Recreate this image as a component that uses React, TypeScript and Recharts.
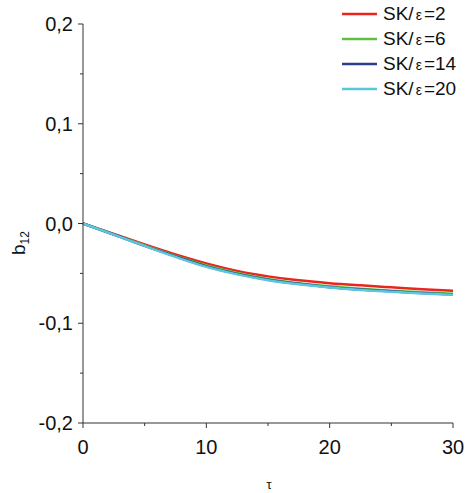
import React from 'react';
import { LineChart, Line, XAxis, YAxis } from 'recharts';

const tau = [0, 2.5, 5, 7.5, 10, 12.5, 15, 17.5, 20, 22.5, 25, 27.5, 30];
const sk2 = [0, -0.0105, -0.021, -0.031, -0.040, -0.0475, -0.053, -0.057, -0.0598, -0.062, -0.064, -0.066, -0.0675];
const sk6 = [0, -0.011, -0.022, -0.0325, -0.042, -0.0495, -0.0555, -0.0598, -0.063, -0.0655, -0.0675, -0.069, -0.0705];
const sk14 = [0, -0.011, -0.0225, -0.033, -0.043, -0.0505, -0.0563, -0.0605, -0.0638, -0.0662, -0.068, -0.0698, -0.0712];
const sk20 = [0, -0.0112, -0.0225, -0.0335, -0.0435, -0.051, -0.0568, -0.061, -0.0642, -0.0666, -0.0685, -0.0702, -0.0715];

const seriesNames = ['2', '6', '14', '20'];
const seriesKeys = ['sk2', 'sk6', 'sk14', 'sk20'];
const colors = ['#e8261f', '#5fbe44', '#2b3f8e', '#5cc6dc'];

const xTicks = [0, 5, 10, 15, 20, 25, 30];
const yTicks = [-0.2, -0.15, -0.1, -0.05, 0, 0.05, 0.1, 0.15, 0.2];

const data = tau.map((t, i) => ({ tau: t, sk2: sk2[i], sk6: sk6[i], sk14: sk14[i], sk20: sk20[i] }));

const FONT = '"Liberation Sans", Arial, sans-serif';
const AX = '#333';

const XTick = (props: any) => {
  const { x, y, payload } = props;
  const v = payload.value;
  const major = v % 10 === 0;
  return (
    <g>
      <line x1={x} x2={x} y1={y} y2={y + (major ? 5 : 3)} stroke={AX} strokeWidth={1} />
      {major && (
        <text x={x} y={y + 31} textAnchor="middle" fontSize={20} fontFamily={FONT} fill="#111">
          {v}
        </text>
      )}
    </g>
  );
};

const YTick = (props: any) => {
  const { x, y, payload } = props;
  const v = payload.value;
  const major = Math.abs(v * 10 - Math.round(v * 10)) < 1e-6;
  const label = v.toFixed(1).replace('.', ',');
  return (
    <g>
      <line x1={x} x2={x - (major ? 5 : 3)} y1={y} y2={y} stroke={AX} strokeWidth={1} />
      {major && (
        <text x={x - 10} y={y + 7} textAnchor="end" fontSize={20} fontFamily={FONT} fill="#111">
          {label}
        </text>
      )}
    </g>
  );
};

const LegendBox = () => (
  <div style={{ position: 'absolute', top: 1, left: 341, width: 126, fontFamily: FONT, color: '#111' }}>
    {seriesNames.map((n, i) => (
      <div key={n} style={{ display: 'flex', alignItems: 'center', height: 25 }}>
        <svg width={42} height={10}>
          <line x1={1} x2={36} y1={5} y2={5} stroke={colors[i]} strokeWidth={2.5} />
        </svg>
        <span style={{ fontSize: 19, whiteSpace: 'nowrap' }}>
          SK/<span style={{ fontSize: 14, margin: '0 2px' }}>ε</span>=
          {n}
        </span>
      </div>
    ))}
  </div>
);

const YLabel = () => (
  <text transform="translate(25,243) rotate(-90)" textAnchor="middle" fontFamily={FONT} fill="#111">
    <tspan fontSize={19}>b</tspan>
    <tspan fontSize={12} dy={4}>12</tspan>
  </text>
);

const XLabel = () => (
  <text x={269} y={489} textAnchor="middle" fontSize={13} fontFamily={FONT} fill="#111">
    τ
  </text>
);

export default function App() {
  return (
    <div style={{ position: 'absolute', left: 0, top: 0, width: 467, height: 493 }}>
      <LineChart width={467} height={493} data={data} margin={{ top: 24, right: 14, bottom: 0, left: 0 }}>
        <XAxis
          dataKey="tau"
          type="number"
          domain={[0, 30]}
          ticks={xTicks}
          tick={<XTick />}
          tickLine={false}
          tickSize={0}
          tickMargin={0}
          height={70}
          stroke={AX}
          label={<XLabel />}
        />
        <YAxis
          type="number"
          domain={[-0.2, 0.2]}
          ticks={yTicks}
          tick={<YTick />}
          tickLine={false}
          tickSize={0}
          tickMargin={0}
          width={83}
          stroke={AX}
          interval={0}
          label={<YLabel />}
        />
        {seriesKeys.map((k, i) => (
          <Line
            key={k}
            dataKey={k}
            type="monotone"
            stroke={colors[i]}
            strokeWidth={2.5}
            dot={false}
            isAnimationActive={false}
            name={`SK/ε=${seriesNames[i]}`}
          />
        ))}
      </LineChart>
      <LegendBox />
    </div>
  );
}
